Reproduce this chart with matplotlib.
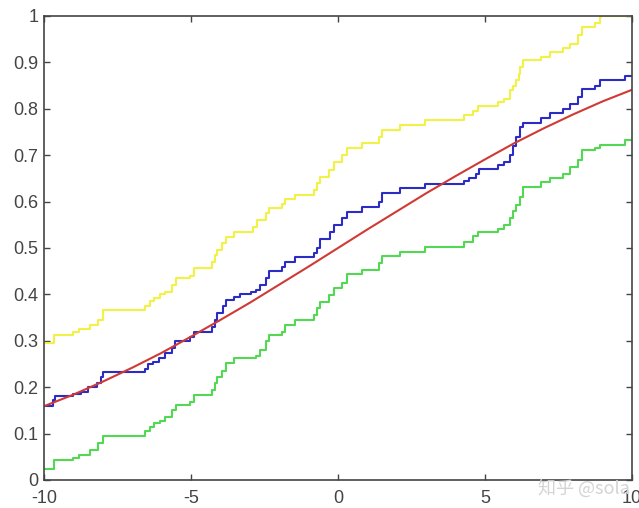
import matplotlib.pyplot as plt

# empirical cdf (blue): jump positions and level after each jump
ecdf_x = [-10, -9.68, -9.62, -9.0, -8.75, -8.5, -8.2, -8.05, -8.0, -6.56, -6.45, -6.3,
          -6.1, -5.9, -5.65, -5.55, -5.05, -4.9, -4.3, -4.2, -4.12, -3.9, -3.8, -3.55,
          -3.35, -2.95, -2.8, -2.65, -2.45, -2.35, -1.9, -1.8, -1.45, -0.8, -0.7, -0.6,
          -0.27, -0.15, 0.15, 0.3, 0.8, 1.4, 1.5, 2.1, 2.95, 4.3, 4.45, 4.7, 4.8, 5.45,
          5.65, 5.85, 5.95, 6.05, 6.2, 6.3, 6.9, 7.2, 7.65, 7.9, 8.15, 8.3, 8.75, 8.9,
          9.75, 10]
ecdf_y = [0.16, 0.172, 0.18, 0.185, 0.19, 0.20, 0.21, 0.222, 0.232, 0.24, 0.25, 0.255,
          0.263, 0.273, 0.285, 0.30, 0.309, 0.32, 0.33, 0.345, 0.36, 0.375, 0.388, 0.395,
          0.40, 0.405, 0.41, 0.42, 0.435, 0.45, 0.46, 0.47, 0.48, 0.49, 0.50, 0.52,
          0.535, 0.55, 0.565, 0.578, 0.589, 0.60, 0.618, 0.629, 0.639, 0.645, 0.65, 0.66,
          0.67, 0.679, 0.686, 0.70, 0.72, 0.74, 0.76, 0.769, 0.78, 0.79, 0.80, 0.81,
          0.825, 0.842, 0.849, 0.861, 0.871, 0.871]

# upper bound (yellow)
upper_x = [-10, -9.65, -9.0, -8.8, -8.45, -8.15, -8.0, -6.55, -6.4, -6.25, -6.05, -5.9,
           -5.65, -5.5, -5.05, -4.9, -4.3, -4.2, -4.12, -3.95, -3.8, -3.55, -2.9, -2.75,
           -2.45, -2.35, -1.9, -1.8, -1.45, -0.8, -0.7, -0.6, -0.3, -0.15, 0.15, 0.3,
           0.8, 1.4, 1.5, 2.1, 2.95, 4.3, 4.6, 4.75, 5.45, 5.65, 5.85, 5.95, 6.05, 6.15,
           6.2, 6.3, 6.9, 7.2, 7.65, 7.9, 8.15, 8.3, 8.75, 8.9, 8.95, 10]
upper_y = [0.295, 0.312, 0.318, 0.325, 0.334, 0.345, 0.366, 0.375, 0.385, 0.392, 0.40,
           0.406, 0.42, 0.435, 0.44, 0.456, 0.47, 0.485, 0.496, 0.51, 0.524, 0.535,
           0.545, 0.56, 0.575, 0.586, 0.595, 0.605, 0.614, 0.625, 0.64, 0.652, 0.668,
           0.686, 0.70, 0.715, 0.726, 0.74, 0.754, 0.765, 0.776, 0.787, 0.796, 0.805,
           0.815, 0.822, 0.84, 0.85, 0.862, 0.875, 0.89, 0.905, 0.912, 0.923, 0.932,
           0.94, 0.96, 0.977, 0.984, 0.997, 1.0, 1.0]

# lower bound (green)
lower_x = [-10, -9.65, -9.0, -8.8, -8.45, -8.15, -8.0, -6.55, -6.4, -6.25, -6.05, -5.9,
           -5.65, -5.5, -5.05, -4.9, -4.3, -4.2, -4.12, -3.95, -3.8, -3.55, -2.8, -2.65,
           -2.45, -2.35, -1.9, -1.8, -1.45, -0.8, -0.7, -0.6, -0.3, -0.15, 0.15, 0.3,
           0.8, 1.4, 1.5, 2.1, 2.95, 4.3, 4.6, 4.75, 5.45, 5.65, 5.85, 5.95, 6.05, 6.2,
           6.3, 6.9, 7.2, 7.65, 7.9, 8.15, 8.3, 8.75, 8.9, 9.75, 10]
lower_y = [0.023, 0.043, 0.048, 0.054, 0.065, 0.08, 0.095, 0.105, 0.115, 0.122, 0.128,
           0.135, 0.15, 0.162, 0.168, 0.183, 0.195, 0.21, 0.223, 0.235, 0.253, 0.262,
           0.268, 0.28, 0.30, 0.3125, 0.32, 0.334, 0.345, 0.355, 0.37, 0.384, 0.398,
           0.413, 0.425, 0.443, 0.453, 0.468, 0.483, 0.492, 0.503, 0.513, 0.525, 0.534,
           0.542, 0.55, 0.565, 0.58, 0.593, 0.61, 0.632, 0.643, 0.65, 0.66, 0.675, 0.69,
           0.711, 0.716, 0.722, 0.733, 0.733]

# theoretical cdf (red)
cdf_x = [-10, -9, -8, -7, -6, -5, -4, -3, -2, -1, 0, 1, 2, 3, 4, 5, 6, 7, 8, 9, 10]
cdf_y = [0.159, 0.184, 0.212, 0.242, 0.274, 0.309, 0.345, 0.382, 0.421, 0.460, 0.5,
         0.540, 0.579, 0.618, 0.655, 0.691, 0.726, 0.758, 0.788, 0.816, 0.841]

xticks = [-10, -5, 0, 5, 10]
yticks = [0, 0.1, 0.2, 0.3, 0.4, 0.5, 0.6, 0.7, 0.8, 0.9, 1]
ytick_labels = ['0', '0.1', '0.2', '0.3', '0.4', '0.5', '0.6', '0.7', '0.8', '0.9', '1']

plt.rcParams['font.family'] = ['Liberation Sans', 'DejaVu Sans']

fig = plt.figure(figsize=(6.39, 5.08), dpi=100)
ax = fig.add_axes([44 / 639, 28 / 508, 588 / 639, 464 / 508])

lw = 1.5
ax.step(upper_x, upper_y, where='post', color='#f2f246', lw=lw)
ax.step(lower_x, lower_y, where='post', color='#52d852', lw=lw)
ax.step(ecdf_x, ecdf_y, where='post', color='#2c2cc4', lw=lw)
ax.plot(cdf_x, cdf_y, color='#d03a34', lw=lw)

ax.set_xlim(-10, 10)
ax.set_ylim(0, 1)
ax.set_xticks(xticks)
ax.set_xticklabels([str(t) for t in xticks])
ax.set_yticks(yticks)
ax.set_yticklabels(ytick_labels)

for s in ax.spines.values():
    s.set_color('#444444')
    s.set_linewidth(1.2)
ax.tick_params(direction='in', length=4, width=1.0, color='#444444',
               labelsize=13, labelcolor='#444444', top=True, right=True)
ax.tick_params(axis='x', pad=7)
ax.tick_params(axis='y', pad=4)

# faint watermark in the corner
fig.text(538 / 639, 20 / 508, '知乎 @sola', color='#d4d4d4', fontsize=13,
         family=['Noto Sans CJK SC', 'DejaVu Sans'], va='center', ha='left')

fig.savefig('out.png', dpi=100)
